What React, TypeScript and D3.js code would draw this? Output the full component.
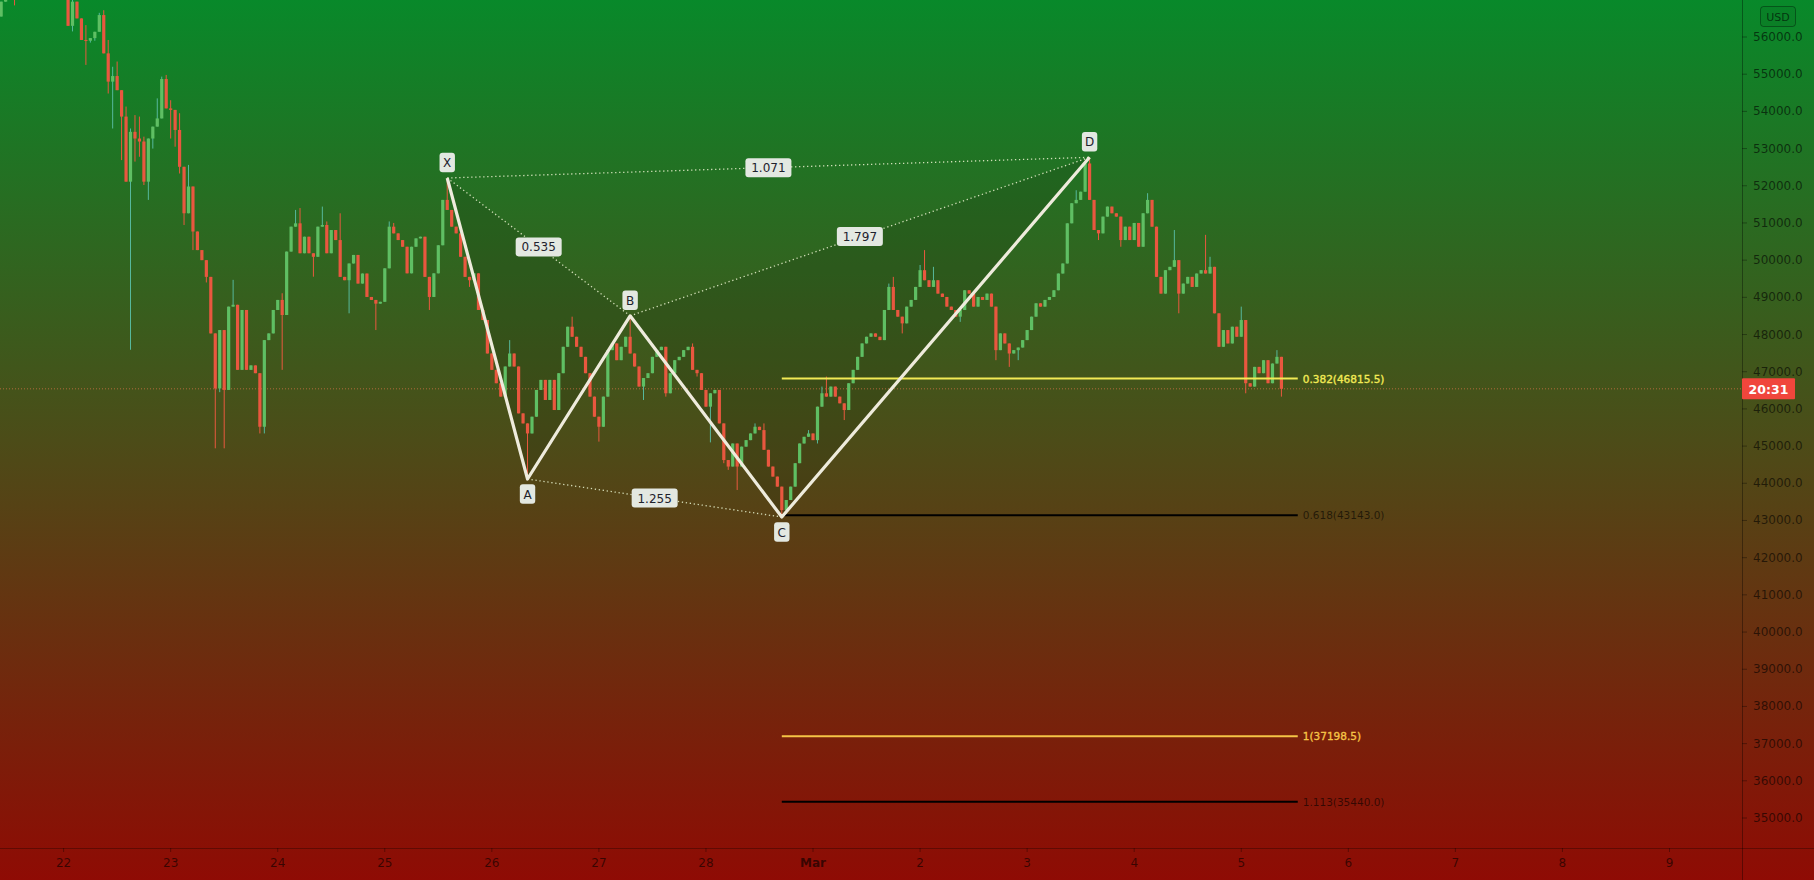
import React from 'react';
import * as d3 from 'd3';

const WIDTH = 1814;
const HEIGHT = 880;
const AXIS_X = 1742;
const AXIS_Y = 848;

// hourly BTC/USD candles, first candle time and open
const FIRST_CANDLE = '2021-02-21T10:00:00Z';
const FIRST_OPEN = 56550;
const closes = [
  // Feb 21 10:00-23:00
  56950, 57300, 57550, 57050, 57400, 57700, 57950, 58100, 57800, 57600, 57750, 57500, 57400, 57600,
  // Feb 22
  57350, 56300, 56950, 56500, 55920, 55900, 55970, 56140, 56590, 55560, 54800, 54950,
  54570, 53860, 52110, 53450, 53270, 53190, 52110, 53270, 53590, 53810, 54870, 54080,
  // Feb 23
  54040, 53500, 52510, 51260, 51980, 50770, 50270, 50000, 49550, 48030, 46550, 48120,
  46510, 48750, 48800, 47050, 48660, 47050, 47170, 46960, 45520, 47850, 48030, 48660,
  // Feb 24
  48930, 48525, 50230, 50900, 50990, 50185, 50630, 50185, 50090, 50900, 50945, 50185,
  50810, 50540, 49550, 49460, 49910, 50140, 49370, 49640, 49010, 48930, 48830, 48880,
  // Feb 25
  49780, 50900, 50720, 50540, 50360, 49645, 50360, 50585, 50630, 49550, 49010, 49645,
  50400, 51620, 51350, 50900, 50720, 50090, 49550, 49460, 49645, 48660, 48390, 47490,
  // Feb 26
  47050, 46690, 46330, 47140, 47490, 47140, 45880, 45610, 45340, 45790, 46510, 46780,
  46240, 46780, 45970, 46960, 47670, 48210, 47940, 47670, 47400, 46960, 46330, 45790,
  // Feb 27
  45520, 46330, 47580, 47760, 47310, 47670, 47940, 47490, 47140, 46600, 46830, 46960,
  47400, 47580, 47670, 46420, 46960, 47310, 47400, 47580, 47670, 47050, 46960, 46510,
  // Feb 28
  46060, 46420, 46510, 45610, 44625, 44450, 45070, 44450, 44985, 45160, 45340, 45520,
  45430, 44900, 44450, 44180, 43910, 43280, 43550, 43910, 44540, 45070, 45250, 45340,
  // Mar 1
  45160, 46060, 46420, 46330, 46600, 46330, 46150, 45970, 46690, 47050, 47400, 47760,
  47940, 48030, 47940, 47850, 48660, 49280, 48660, 48480, 48300, 48750, 48930, 49280,
  // Mar 2
  49730, 49460, 49280, 49460, 49100, 49010, 48750, 48660, 48480, 48660, 49190, 49100,
  48750, 49010, 48930, 49100, 48750, 47580, 48030, 47760, 47490, 47580, 47650, 47850,
  // Mar 3
  48120, 48480, 48840, 48750, 48930, 49010, 49190, 49640, 49910, 50990, 51530, 51620,
  51840, 52600, 51620, 50810, 50720, 51170, 51440, 51260, 51170, 50540, 50900, 50540,
  // Mar 4
  51000, 50360, 51260, 51620, 50900, 49550, 49100, 49730, 49820, 50000, 49100, 49370,
  49550, 49280, 49640, 49730, 49640, 49820, 48570, 47670, 48120, 47760, 48210, 47940,
  // Mar 5
  48390, 46690, 46600, 47130, 46960, 47310, 46690, 47220, 47400, 46540,
];

// notable wick extremes: [hours after Feb 22 00:00, price]
const wickHighs: [number, number][] = [
  [2, 57100], [5, 56320], [8, 56650], [9, 56720], [10, 55920], [11, 55200], [12, 55340],
  [14, 54130], [15, 53540], [16, 53900], [17, 53860], [18, 53320], [21, 54350], [22, 54935],
  [23, 54980], [24, 54300], [26, 53950], [28, 52560], [38, 49470], [49, 49110], [52, 51350],
  [53, 51400], [58, 51440], [59, 51040], [62, 51260], [73, 51040], [74, 51000], [86, 52210],
  [100, 47850], [114, 48480], [127, 48500], [141, 47760], [155, 45610], [157, 45610],
  [167, 45430], [170, 46600], [171, 46870], [185, 49370], [186, 49550], [192, 49870],
  [193, 50270], [195, 49820], [227, 51880], [230, 52765], [243, 51800], [249, 50810],
  [256, 50680], [257, 50090], [264, 48750], [272, 47580],
];
const wickLows: [number, number][] = [
  [-11, 56850], [2, 56150], [5, 55250], [6, 55850], [7, 55900], [10, 54480], [11, 53540],
  [13, 52690], [15, 47590], [16, 52650], [17, 52780], [18, 52020], [19, 51620], [20, 53000],
  [24, 53270], [25, 53050], [26, 52330], [27, 50945], [29, 50270], [32, 49400], [34, 44940],
  [35, 46450], [36, 44940], [44, 45340], [45, 45340], [49, 47050], [56, 49555], [64, 48570],
  [70, 48120], [82, 48660], [91, 49280], [104, 44115], [120, 45120], [130, 46240],
  [135, 46330], [142, 46870], [145, 45100], [148, 44540], [149, 44360], [151, 43820],
  [161, 43093], [162, 43190], [169, 45070], [175, 45700], [188, 48030], [201, 48340],
  [209, 47310], [212, 47130], [214, 47310], [232, 50540], [237, 50360], [250, 48570],
  [265, 46420], [273, 46330],
];

const priceTicks = [
  35000, 36000, 37000, 38000, 39000, 40000, 41000, 42000, 43000, 44000, 45000,
  46000, 47000, 48000, 49000, 50000, 51000, 52000, 53000, 54000, 55000, 56000,
];
const dayTicks = [
  '2021-02-22', '2021-02-23', '2021-02-24', '2021-02-25', '2021-02-26', '2021-02-27',
  '2021-02-28', '2021-03-01', '2021-03-02', '2021-03-03', '2021-03-04', '2021-03-05',
  '2021-03-06', '2021-03-07', '2021-03-08', '2021-03-09',
];
const dayLabels = ['22', '23', '24', '25', '26', '27', '28', 'Mar', '2', '3', '4', '5', '6', '7', '8', '9'];

const patternNames = ['X', 'A', 'B', 'C', 'D'];
const patternTimes = [
  '2021-02-25T14:00:00Z', '2021-02-26T08:00:00Z', '2021-02-27T07:00:00Z',
  '2021-02-28T17:00:00Z', '2021-03-03T14:00:00Z',
];
const patternPrices = [52209, 44115, 48503, 43093, 52765];
const ratioPairs = [[0, 2], [1, 3], [2, 4], [0, 4]];
const ratioTexts = ['0.535', '1.255', '1.797', '1.071'];

const fibRatios = ['0.382', '0.618', '1', '1.113'];
const fibPrices = [46815.5, 43143.0, 37198.5, 35440.0];
const fibColors = ['#f2ea55', '#000000', '#f5c446', '#000000'];
const fibTextColors = ['#f2ea55', 'rgba(0,0,0,0.6)', '#f5c446', 'rgba(0,0,0,0.6)'];
const fibTextBold = [true, false, true, false];
const FIB_END = '2021-03-05T12:40:00Z';

const LAST_PRICE = 46540;
const COUNTDOWN = '20:31';

const FONT = '"DejaVu Sans", sans-serif';
const AXIS_TEXT = 'rgba(0,0,0,0.6)';

export default function App() {
  const x = d3.scaleUtc()
    .domain([new Date('2021-02-22T00:00:00Z'), new Date('2021-03-09T00:00:00Z')])
    .range([63.6, 1669.5]);
  const y = d3.scaleLinear().domain([35000, 56000]).range([818, 37]);

  const HOUR = 3600000;
  const t0 = new Date(FIRST_CANDLE).getTime();
  const feb22 = Date.UTC(2021, 1, 22);
  const hiMap = new Map(wickHighs.map(([h, p]) => [h, p]));
  const loMap = new Map(wickLows.map(([h, p]) => [h, p]));
  const candles = closes.map((c, i) => {
    const t = t0 + i * HOUR;
    const hh = Math.round((t - feb22) / HOUR);
    const o = i === 0 ? FIRST_OPEN : closes[i - 1];
    const hi = Math.max(o, c, hiMap.has(hh) ? hiMap.get(hh)! : -Infinity);
    const lo = Math.min(o, c, loMap.has(hh) ? loMap.get(hh)! : Infinity);
    return { t: new Date(t), o, c, hi, lo };
  });

  const pts = patternTimes.map((t, i) => ({
    name: patternNames[i],
    x: x(new Date(t)),
    y: y(patternPrices[i]),
  }));
  const isHigh = (i: number) => i % 2 === 0;

  const line = d3.line<{ x: number; y: number }>().x((d) => d.x).y((d) => d.y);
  const tri1 = [pts[0], pts[1], pts[2]];
  const tri2 = [pts[2], pts[3], pts[4]];

  const fibStart = x(new Date(patternTimes[3]));
  const fibEnd = x(new Date(FIB_END));
  const lastY = y(LAST_PRICE);

  const boxW = (s: string) => s.length * 7.6 + 8;

  return (
    <svg
      width={WIDTH}
      height={HEIGHT}
      style={{ position: 'fixed', left: 0, top: 0, display: 'block' }}
      xmlns="http://www.w3.org/2000/svg"
    >
      <defs>
        <linearGradient id="bg" x1="0" y1="0" x2="0" y2="1">
          <stop offset="0" stopColor="#08892a" />
          <stop offset="0.5" stopColor="#4c4c18" />
          <stop offset="1" stopColor="#8f0b04" />
        </linearGradient>
        <clipPath id="plot">
          <rect x={0} y={0} width={AXIS_X} height={AXIS_Y} />
        </clipPath>
      </defs>
      <rect x={0} y={0} width={WIDTH} height={HEIGHT} fill="url(#bg)" />

      <g clipPath="url(#plot)">
        {/* pattern triangles */}
        <path d={line(tri1)! + 'Z'} fill="rgba(20,40,15,0.16)" />
        <path d={line(tri2)! + 'Z'} fill="rgba(20,40,15,0.16)" />

        {/* current price line */}
        <line x1={0} x2={AXIS_X} y1={lastY} y2={lastY} stroke="rgba(235,120,80,0.65)" strokeWidth={1} strokeDasharray="1 2" />

        {/* candles */}
        {candles.map((d, i) => {
          const up = d.c >= d.o;
          const cx = x(d.t);
          const top = y(Math.max(d.o, d.c));
          const bot = y(Math.min(d.o, d.c));
          return (
            <g key={i}>
              <line x1={cx} x2={cx} y1={y(d.hi)} y2={y(d.lo)} stroke={up ? '#56b89c' : '#e8593f'} strokeWidth={1} />
              <rect x={cx - 1.6} y={top} width={3.2} height={Math.max(1, bot - top)} fill={up ? '#5fbf63' : '#e9573f'} />
            </g>
          );
        })}

        {/* fib levels */}
        {fibPrices.map((p, i) => (
          <g key={'f' + i}>
            <line x1={fibStart} x2={fibEnd} y1={y(p)} y2={y(p)} stroke={fibColors[i]} strokeWidth={2} />
            <text x={fibEnd + 5} y={y(p)} dominantBaseline="central" fontFamily={FONT} fontSize={10.5}
              fill={fibTextColors[i]} stroke={fibTextBold[i] ? fibTextColors[i] : 'none'} strokeWidth={0.35}>
              {`${fibRatios[i]}(${p.toFixed(1)})`}
            </text>
          </g>
        ))}

        {/* dotted ratio lines */}
        {ratioPairs.map(([a, b], i) => (
          <line key={'r' + i} x1={pts[a].x} y1={pts[a].y} x2={pts[b].x} y2={pts[b].y}
            stroke="#e2ecc8" strokeOpacity={0.9} strokeWidth={1.3} strokeDasharray="1.3 2.7" />
        ))}

        {/* pattern legs */}
        <path d={line(pts)!} fill="none" stroke="#eeebdc" strokeWidth={3.2} strokeLinejoin="round" />

        {/* ratio labels */}
        {ratioPairs.map(([a, b], i) => {
          const mx = (pts[a].x + pts[b].x) / 2;
          const my = (pts[a].y + pts[b].y) / 2;
          const w = boxW(ratioTexts[i]);
          return (
            <g key={'rl' + i}>
              <rect x={mx - w / 2} y={my - 9.5} width={w} height={19} rx={3} fill="#e3e8e1" />
              <text x={mx} y={my + 0.5} textAnchor="middle" dominantBaseline="central" fontFamily={FONT} fontSize={12} fill="#1e222d">
                {ratioTexts[i]}
              </text>
            </g>
          );
        })}

        {/* point labels */}
        {pts.map((p, i) => {
          const cy = isHigh(i) ? p.y - 15.5 : p.y + 15;
          return (
            <g key={'p' + i}>
              <rect x={p.x - 7.7} y={cy - 9.7} width={15.4} height={19.4} rx={3} fill="#e3e8e1" />
              <text x={p.x} y={cy + 0.5} textAnchor="middle" dominantBaseline="central" fontFamily={FONT} fontSize={12} fill="#1e222d">
                {p.name}
              </text>
            </g>
          );
        })}
      </g>

      {/* axes frame */}
      <line x1={0} x2={WIDTH} y1={AXIS_Y + 0.5} y2={AXIS_Y + 0.5} stroke="rgba(0,0,0,0.3)" strokeWidth={1} />
      <line x1={AXIS_X + 0.5} x2={AXIS_X + 0.5} y1={0} y2={HEIGHT} stroke="rgba(0,0,0,0.35)" strokeWidth={1} />

      {/* price axis */}
      {priceTicks.map((p) => (
        <g key={'pt' + p}>
          <line x1={AXIS_X} x2={AXIS_X + 5} y1={y(p)} y2={y(p)} stroke="rgba(0,0,0,0.35)" />
          <text x={1753} y={y(p)} dominantBaseline="central" fontFamily={FONT} fontSize={12} fill={AXIS_TEXT}>
            {d3.format('.1f')(p)}
          </text>
        </g>
      ))}

      {/* time axis */}
      {dayTicks.map((d, i) => {
        const tx = x(new Date(d + 'T00:00:00Z'));
        return (
          <g key={'dt' + i}>
            <line x1={tx} x2={tx} y1={AXIS_Y} y2={AXIS_Y + 4} stroke="rgba(0,0,0,0.35)" />
            <text x={tx} y={863} textAnchor="middle" dominantBaseline="central" fontFamily={FONT}
              fontSize={12} fontWeight={dayLabels[i] === 'Mar' ? 'bold' : 'normal'} fill={AXIS_TEXT}>
              {dayLabels[i]}
            </text>
          </g>
        );
      })}

      {/* currency box */}
      <rect x={1760.5} y={6.5} width={35} height={20} rx={3} fill="rgba(0,0,0,0.05)" stroke="rgba(0,0,0,0.35)" />
      <text x={1778} y={17} textAnchor="middle" dominantBaseline="central" fontFamily={FONT} fontSize={11} fill={AXIS_TEXT}>
        USD
      </text>

      {/* last price / countdown label */}
      <rect x={AXIS_X} y={lastY - 10.5} width={53} height={21} rx={1} fill="#f0463c" />
      <text x={AXIS_X + 26.5} y={lastY + 0.5} textAnchor="middle" dominantBaseline="central" fontFamily={FONT} fontSize={12.5} fontWeight="bold" fill="#ffffff">
        {COUNTDOWN}
      </text>
    </svg>
  );
}
